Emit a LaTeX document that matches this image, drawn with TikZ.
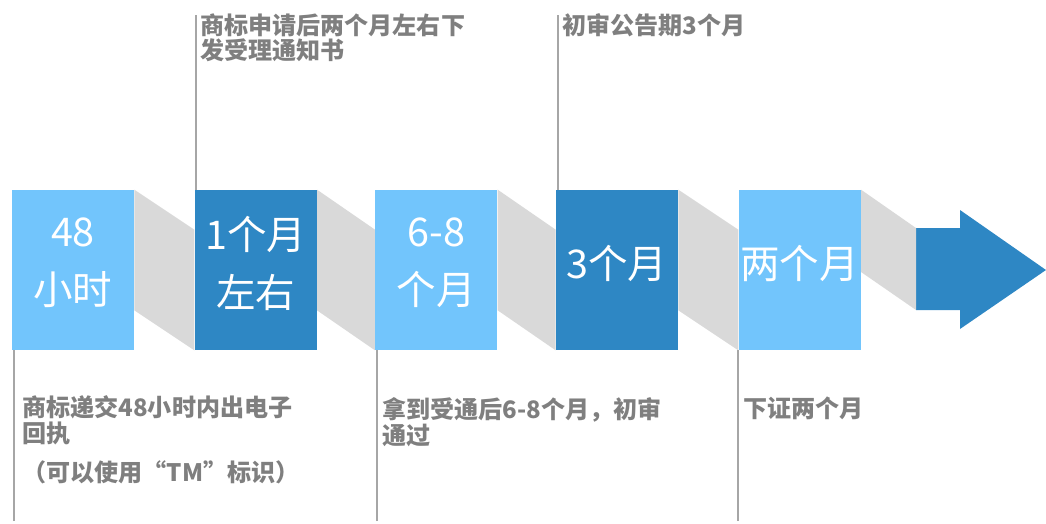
\documentclass[tikz,border=0pt]{standalone}
\usepackage{fontspec}
\setmainfont{Noto Sans CJK SC}
\usetikzlibrary{positioning}
\definecolor{lightblue}{HTML}{72C5FC}
\definecolor{darkblue}{HTML}{2E87C4}
\definecolor{shadegray}{HTML}{D9D9D9}
\definecolor{textgray}{HTML}{7F7F7F}
\definecolor{guidegray}{HTML}{A6A6A6}
\begin{document}
\begin{tikzpicture}[x=0.02cm, y=-0.02cm, node distance=1.16cm,
  stage/.style={minimum width=2.44cm, minimum height=3.2cm, inner sep=0pt},
  light/.style={stage, fill=lightblue},
  dark/.style={stage, fill=darkblue},
  stagetext/.style={inner sep=0pt, text=white, align=center,
    font=\fontsize{22.5}{33}\selectfont},
  note/.style={anchor=north west, inner sep=0pt, text=textgray, align=left,
    font=\bfseries\fontsize{13.7}{14.7}\selectfont},
  guide/.style={guidegray, line width=0.7pt}]
\useasboundingbox (0,0) rectangle (1046,524);
\node[light] (b1) at (73,270) {};
\node[dark, right=1.2cm of b1] (b2) {};
\node[light, right=of b2] (b3) {};
\node[dark, right=of b3] (b4) {};
\node[light, right=1.2cm of b4] (b5) {};
\node[stagetext] (s1) at ([yshift=0.14cm]b1) {48\\小时};
\node[stagetext] (s2) at ([yshift=0.14cm]b2) {1个月\\左右};
\node[stagetext] (s3) at ([yshift=0.14cm]b3) {6-8\\个月};
\node[stagetext] (s4) at ([yshift=0.14cm]b4) {3个月};
\node[stagetext] (s5) at ([yshift=0.14cm]b5) {两个月};
% shades between the stages
\fill[shadegray] (b1.north east) -- ([yshift=-0.8cm]b2.north west) -- (b2.south west) -- ([yshift=0.8cm]b1.south east) -- cycle;
\fill[shadegray] (b2.north east) -- ([yshift=-0.8cm]b3.north west) -- (b3.south west) -- ([yshift=0.8cm]b2.south east) -- cycle;
\fill[shadegray] (b3.north east) -- ([yshift=-0.8cm]b4.north west) -- (b4.south west) -- ([yshift=0.8cm]b3.south east) -- cycle;
\fill[shadegray] (b4.north east) -- ([yshift=-0.8cm]b5.north west) -- (b5.south west) -- ([yshift=0.8cm]b4.south east) -- cycle;
% end arrow
\fill[darkblue] (916,228) -- (960,228) -- (960,210) -- (1046,270) -- (960,329) -- (960,310) -- (916,310) -- cycle;
\fill[shadegray] (b5.north east) -- (916,228) -- (916,310) -- ([yshift=-0.04cm]b5.east) -- cycle;
% guide lines
\coordinate (t2) at (196,15);
\coordinate (t4) at (558,15);
\coordinate (e1) at (14,521);
\coordinate (e3) at (377,521);
\coordinate (e5) at (738,521);
\draw[guide] (t2) -- (t2 |- b2.north);
\draw[guide] (t4) -- (t4 |- b4.north);
\draw[guide] (e1) -- (e1 |- b1.south);
\draw[guide] (e3) -- (e3 |- b3.south);
\draw[guide] (e5) -- (e5 |- b5.south);
% notes
\node[note] (n2) at (200,13) {商标申请后两个月左右下\\发受理通知书};
\node[note] (n4) at (562,13) {初审公告期3个月};
\node[note] (n1) at (22,395) {商标递交48小时内出电子\\回执\\[8pt]（可以使用“TM”标识）};
\node[note] (n3) at (382,397) {拿到受通后6-8个月，初审\\通过};
\node[note] (n5) at (743,397) {下证两个月};
\end{tikzpicture}
\end{document}
